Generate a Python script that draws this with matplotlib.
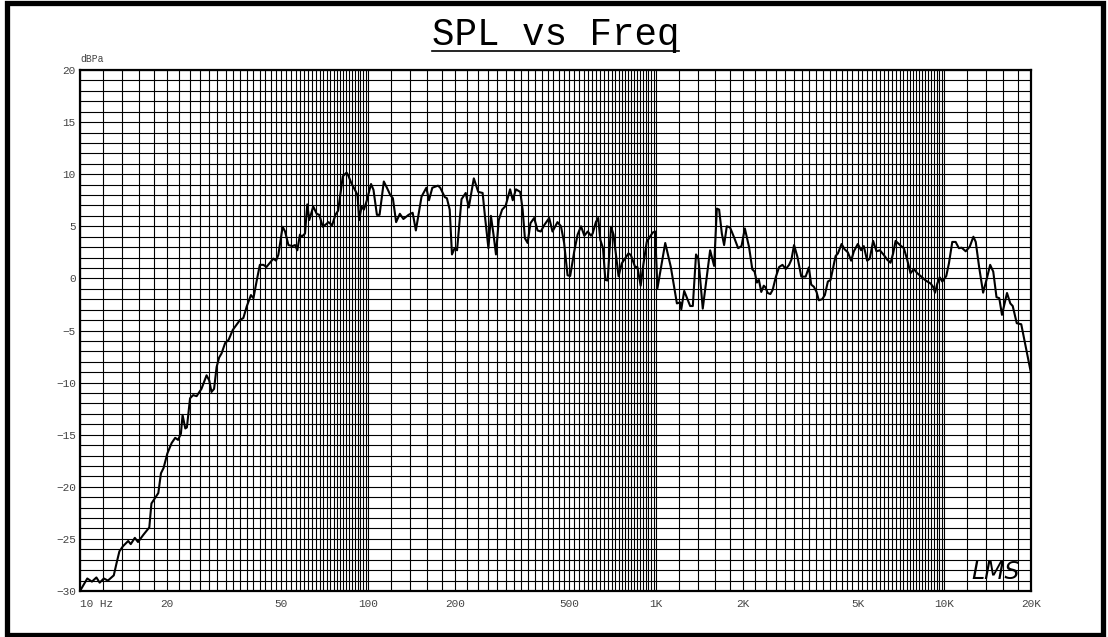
import numpy as np
import matplotlib
matplotlib.use('Agg')
import matplotlib.pyplot as plt
from matplotlib.ticker import FixedLocator, NullFormatter
from matplotlib.patches import Rectangle
from matplotlib.lines import Line2D

freq_hz = [
    10.0, 10.6, 11.0, 11.4, 11.7, 12.1, 12.5, 13.1, 13.4, 13.7, 14.1, 14.7, 15.0, 15.5,
    15.9, 16.6, 17.4, 17.7, 18.2, 18.7, 19.1, 19.5, 20.1, 20.8, 21.4, 21.9, 22.4, 22.7,
    23.2, 23.5, 24.1, 24.7, 25.4, 26.4, 27.5, 28.1, 28.6, 29.2, 29.8, 30.4, 31.0, 31.9,
    32.8, 33.9, 35.9, 36.9, 37.9, 39.2, 40.0, 41.1, 42.1, 43.3, 44.4, 46.9, 47.9, 48.8,
    50.5, 51.5, 52.9, 54.6, 55.8, 56.8, 58.0, 58.8, 60.4, 61.5, 62.5, 64.5, 66.3, 67.7,
    69.6, 71.5, 72.9, 75.0, 77.0, 78.7, 81.7, 84.2, 85.3, 87.6, 90.0, 91.9, 93.1, 94.9,
    96.7, 98.8, 102.4, 104.4, 107.3, 109.6, 113.4, 116.7, 119.4, 121.9, 125.1, 128.9,
    132.6, 138.2, 142.8, 146.5, 153.3, 159.3, 162.7, 167.1, 174.8, 178.0, 184.6, 187.7,
    192.0, 195.5, 199.7, 203.6, 211.0, 218.2, 223.6, 232.8, 241.2, 249.8, 254.6, 261.6,
    266.9, 272.5, 277.9, 284.2, 291.9, 300.1, 311.1, 317.8, 325.9, 337.4, 343.9, 350.2,
    357.9, 366.1, 377.1, 387.4, 397.6, 408.4, 425.3, 436.6, 454.4, 467.3, 479.1, 492.4,
    502.9, 519.5, 533.6, 548.5, 563.1, 578.6, 593.6, 601.8, 617.4, 629.0, 639.9, 653.7,
    666.1, 678.6, 697.0, 711.2, 740.3, 759.7, 801.2, 816.4, 845.0, 860.4, 883.6, 902.3,
    927.4, 951.4, 972.9, 991.2, 1010, 1075, 1124, 1180, 1212, 1222, 1251, 1312, 1340,
    1375, 1401, 1451, 1539, 1589, 1624, 1654, 1690, 1721, 1758, 1804, 1866, 1925, 1978,
    2031, 2101, 2156, 2196, 2237, 2273, 2316, 2363, 2394, 2438, 2491, 2537, 2604, 2673,
    2744, 2818, 2893, 2947, 3010, 3090, 3189, 3302, 3389, 3452, 3526, 3603, 3668, 3768,
    3850, 3944, 4030, 4195, 4274, 4400, 4507, 4627, 4750, 4855, 5010, 5145, 5256, 5398,
    5514, 5663, 5817, 5974, 6168, 6336, 6508, 6646, 6776, 6898, 7085, 7240, 7434, 7635,
    7844, 8057, 8276, 8617, 8973, 9165, 9288, 9458, 9640, 9844, 10160, 10380, 10660,
    10950, 11240, 11490, 11870, 12260, 12620, 12860, 13210, 13640, 14010, 14430, 14790,
    15180, 15520, 15860, 16510, 16950, 17280, 17850, 18500, 20000,
]
spl_db = [
    -30.0, -28.8, -29.1, -28.7, -29.2, -28.8, -29.0, -28.5, -27.3, -26.2, -25.7, -25.2, -25.5, -24.9,
    -25.3, -24.6, -23.9, -21.6, -21.1, -20.6, -18.7, -18.2, -16.8, -15.8, -15.3, -15.5, -14.9, -13.1,
    -14.4, -14.3, -11.5, -11.2, -11.3, -10.6, -9.3, -9.8, -10.9, -10.6, -8.5, -7.6, -7.2, -6.2,
    -5.9, -4.95, -4.0, -3.8, -2.7, -1.6, -1.9, -0.15, 1.3, 1.3, 1.1, 1.9, 1.7, 2.25,
    4.96, 4.5, 3.2, 3.1, 3.2, 2.7, 4.2, 4.0, 4.3, 7.1, 5.6, 6.9, 6.2, 6.1,
    4.96, 5.2, 5.4, 5.1, 6.1, 6.5, 9.8, 10.15, 9.9, 9.1, 8.5, 8.0, 5.6, 6.9,
    6.6, 7.4, 9.06, 8.5, 6.1, 6.1, 9.3, 8.6, 8.0, 7.7, 5.4, 6.2,
    5.7, 6.1, 6.3, 4.6, 7.85, 8.7, 7.5, 8.7, 8.9, 8.7, 7.8, 7.7,
    6.6, 2.3, 2.9, 2.7, 7.6, 8.2, 6.8, 9.6, 8.3, 8.2, 5.9, 2.9,
    6.0, 4.2, 2.3, 5.6, 6.6, 6.95, 8.55, 7.5, 8.55, 8.3, 6.6, 3.85,
    3.4, 5.3, 5.8, 4.6, 4.5, 5.1, 5.8, 4.5, 5.4, 5.0, 3.4, 0.3,
    0.23, 2.6, 4.2, 5.0, 4.1, 4.5, 4.1, 4.3, 5.4, 5.8, 3.7, 2.9,
    -0.15, -0.2, 4.96, 4.2, 0.2, 1.45, 2.4, 2.25, 1.1, 1.1, -0.7, 1.3,
    3.5, 4.0, 4.4, 4.5, -0.95, 3.4, 1.1, -2.4, -2.3, -2.97, -1.2, -2.65, -2.65,
    2.3, 1.9, -2.9, 2.7, 1.2, 6.7, 6.6, 4.3, 3.2, 5.0, 4.9, 3.9, 2.9, 3.1,
    4.8, 3.0, 0.87, 0.65, -0.4, -0.15, -1.3, -0.7, -0.85, -1.4, -1.5, -1.1, 0.17, 1.1,
    1.3, 0.9, 1.3, 1.8, 3.2, 2.1, 0.17, 0.17, 1.06, -0.6, -0.8, -1.3, -2.1, -2.0,
    -1.6, -0.3, -0.15, 2.15, 2.4, 3.3, 2.8, 2.5, 1.7, 2.6, 3.3, 2.7, 3.1, 1.7,
    1.9, 3.6, 2.6, 2.7, 2.25, 1.8, 1.5, 2.4, 3.6, 3.4, 3.1, 2.9, 1.8, 0.5,
    0.9, 0.5, 0.23, -0.2, -0.5, -0.85, -1.37, -0.5, 0.1, -0.3, 0.23, 1.45, 3.5,
    3.5, 2.9, 2.95, 2.6, 3.05, 4.0, 3.5, 1.1, -1.37, -0.15, 1.3, 0.65,
    -1.8, -1.9, -3.5, -1.4, -2.4, -2.65, -4.3, -4.4, -9.1,
]

x_tick_vals = [10, 20, 50, 100, 200, 500, 1000, 2000, 5000, 10000, 20000]
x_tick_labels = ['10 Hz', '20', '50', '100', '200', '500', '1K', '2K', '5K', '10K', '20K']
y_tick_vals = [-30, -25, -20, -15, -10, -5, 0, 5, 10, 15, 20]

MONO = 'Liberation Mono'
W, H = 1108, 637

fig = plt.figure(figsize=(W / 100, H / 100), dpi=100)
ax = fig.add_axes([80 / W, 1 - 591 / H, 951 / W, 521 / H])

ax.plot(freq_hz, spl_db, color='black', lw=1.5, zorder=3)

ax.set_xscale('log')
ax.set_xlim(10, 20000)
ax.set_ylim(-30, 20)

# log grid: every 2 units inside each decade
grid_x = []
for dec in (10, 100, 1000, 10000):
    for m in range(10, 101, 2):
        v = dec * m / 10
        if v <= 20000:
            grid_x.append(v)
ax.xaxis.set_major_locator(FixedLocator(x_tick_vals))
ax.set_xticklabels(x_tick_labels)
ax.xaxis.set_minor_locator(FixedLocator(sorted(set(grid_x))))
ax.xaxis.set_minor_formatter(NullFormatter())
ax.yaxis.set_major_locator(FixedLocator(y_tick_vals))
ax.yaxis.set_minor_locator(FixedLocator(list(range(-30, 21))))
ax.yaxis.set_minor_formatter(NullFormatter())

ax.grid(which='both', color='black', lw=0.8)
ax.tick_params(which='both', length=0)
ax.tick_params(axis='x', pad=6, labelsize=8, labelcolor='#444444')
ax.tick_params(axis='y', pad=3, labelsize=8, labelcolor='#444444')
for lab in ax.get_xticklabels() + ax.get_yticklabels():
    lab.set_fontfamily(MONO)
ax.get_xticklabels()[0].set_ha('left')

for sp in ax.spines.values():
    sp.set_linewidth(1.6)
    sp.set_color('black')

ax.text(0.0, 1.012, 'dBPa', transform=ax.transAxes, fontsize=7, family=MONO,
        color='#444444', ha='left', va='bottom')

# LMS logo
ax.text(0.963, 0.037, 'LMS', transform=ax.transAxes, fontsize=17, style='italic',
        family='DejaVu Sans', fontweight='light', ha='center', va='center', zorder=4)

# title with underline
title = fig.text(0.5015, 1 - 45 / H, 'SPL vs Freq', ha='center', va='baseline',
                 fontsize=27, family=MONO, color='black')
fig.canvas.draw()
bb = title.get_window_extent()
uy = 1 - 51 / H
fig.add_artist(Line2D([bb.x0 / W, bb.x1 / W], [uy, uy], transform=fig.transFigure,
                      color='black', lw=1.2))

# outer frame
fig.add_artist(Rectangle((6.5 / W, 2.5 / H), 1096 / W, 632 / H, transform=fig.transFigure,
                         fill=False, edgecolor='black', lw=3.8))

fig.savefig('out.png', dpi=100)
